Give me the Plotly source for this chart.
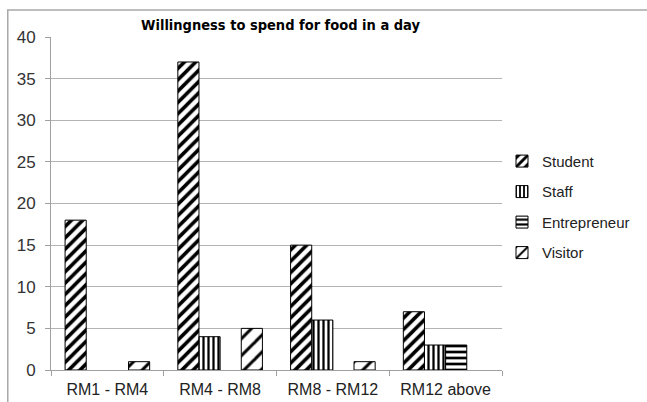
import plotly.graph_objects as go

categories = ["RM1 - RM4", "RM4 - RM8", "RM8 - RM12", "RM12 above"]
student = [18, 37, 15, 7]
staff = [0, 4, 6, 3]
entrepreneur = [0, 0, 0, 3]
visitor = [1, 5, 1, 0]
y_ticks = [0, 5, 10, 15, 20, 25, 30, 35, 40]

series = [
    ("Student", student, dict(shape="/", size=8, solidity=0.45)),
    ("Staff", staff, dict(shape="|", size=5, solidity=0.45)),
    ("Entrepreneur", entrepreneur, dict(shape="-", size=6, solidity=0.45)),
    ("Visitor", visitor, dict(shape="/", size=12, solidity=0.25)),
]

FONT = "Liberation Sans, Arial, sans-serif"

fig = go.Figure()
for name, vals, pat in series:
    fig.add_trace(go.Bar(
        name=name, x=categories, y=[v if v else None for v in vals], legendgroup=name,
        marker=dict(color="white", line=dict(color="black", width=1),
                    pattern=dict(fgcolor="black", bgcolor="white", fillmode="replace", **pat)),
    ))

fig.update_layout(
    width=647, height=402,
    margin=dict(l=51, r=137, t=37, b=32),
    paper_bgcolor="white", plot_bgcolor="white",
    barmode="group", bargap=0.25, bargroupgap=0,
    font=dict(family=FONT, size=13, color="#222"),
    title=dict(text="<b>Willingness to spend for food in a day</b>",
               x=(51 + 459 / 2) / 647, xanchor="center", y=1 - 25 / 402, yanchor="middle",
               font=dict(size=14.5, color="black", family="DejaVu Sans Condensed, Liberation Sans, sans-serif")),
    legend=dict(x=1.0, xanchor="left", y=0.49, yanchor="middle",
                font=dict(size=15, color="#222", family=FONT),
                tracegroupgap=8, bgcolor="rgba(0,0,0,0)"),
    showlegend=True,
)
fig.update_yaxes(range=[0, 40], tickvals=y_ticks, showgrid=True, gridcolor="#b3b3b3", gridwidth=1,
                 showline=True, linecolor="#a0a0a0", ticks="outside", ticklen=5, tickcolor="#a0a0a0",
                 ticklabelstandoff=6, automargin=False,
                 tickfont=dict(size=17, color="#333", family=FONT), zeroline=False)
fig.update_xaxes(showline=True, linecolor="#a0a0a0", ticks="outside", tickson="boundaries",
                 ticklen=5, tickcolor="#a0a0a0", automargin=False, ticklabelstandoff=5,
                 tickfont=dict(size=16, color="#222", family=FONT))

fig.add_shape(type="rect", xref="paper", yref="paper",
              x0=(7 - 51) / 459, x1=(660 - 51) / 459,
              y0=(370 - 410) / 333, y1=(370 - 10) / 333,
              line=dict(color="#a8a8a8", width=1.5), fillcolor="rgba(0,0,0,0)", layer="below")

fig.write_html("out.html")
